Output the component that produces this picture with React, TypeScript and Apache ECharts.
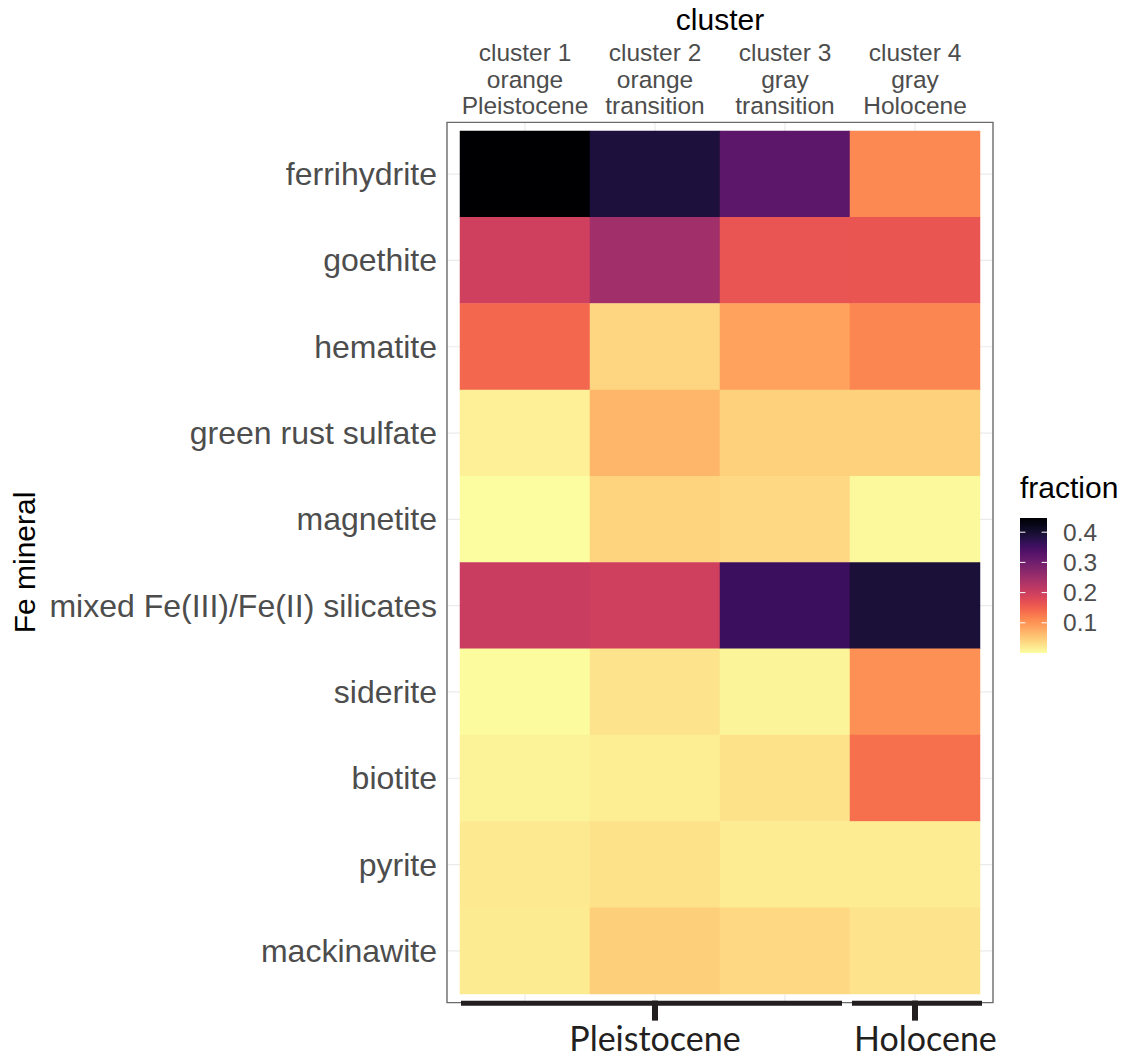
import React, { useEffect, useRef } from "react";
import * as echarts from "echarts";

// ---------- data ----------
const clusters = [
  "cluster 1\norange\nPleistocene",
  "cluster 2\norange\ntransition",
  "cluster 3\ngray\ntransition",
  "cluster 4\ngray\nHolocene",
];
const minerals = [
  "ferrihydrite",
  "goethite",
  "hematite",
  "green rust sulfate",
  "magnetite",
  "mixed Fe(III)/Fe(II) silicates",
  "siderite",
  "biotite",
  "pyrite",
  "mackinawite",
];
const cluster1 = [0.447, 0.197, 0.143, 0.013, 0.0, 0.203, 0.001, 0.011, 0.02, 0.018];
const cluster2 = [0.389, 0.246, 0.038, 0.067, 0.04, 0.197, 0.025, 0.016, 0.027, 0.045];
const cluster3 = [0.322, 0.163, 0.087, 0.042, 0.036, 0.358, 0.009, 0.027, 0.017, 0.036];
const cluster4 = [0.112, 0.162, 0.114, 0.042, 0.004, 0.393, 0.105, 0.134, 0.017, 0.026];
const clusterValues = [cluster1, cluster2, cluster3, cluster4];
const legendTicks = [0.1, 0.2, 0.3, 0.4];
const fillMin = 0;
const fillMax = 0.447;
const epochNames = ["Pleistocene", "Holocene"];
const epochFrom = [0, 3];
const epochTo = [2, 3];
const epochTick = [1, 3];

// magma palette, t = 0 (dark) .. 1 (light)
const magmaBase = [
  "#000004", "#07061C", "#140E36", "#251255", "#3B0F70", "#51127C", "#641A80",
  "#782281", "#8C2981", "#A1307E", "#B73779", "#CA3E72", "#DE4968", "#ED5A5F",
  "#F7705C", "#FC8961", "#FE9F6D", "#FEB77E", "#FECF92", "#FDE7A9", "#FCFDBF",
];
// slight tone adjustment to match the reference rendering
const magma = magmaBase.map((h) => {
  const r = parseInt(h.slice(1, 3), 16);
  const g = parseInt(h.slice(3, 5), 16);
  const b = Math.round(parseInt(h.slice(5, 7), 16) * 0.84);
  return "#" + [r, g, b].map((v) => v.toString(16).padStart(2, "0")).join("");
});

const FONT = "'Liberation Sans', Arial, Helvetica, sans-serif";

export default function App() {
  const ref = useRef<HTMLDivElement>(null);

  useEffect(() => {
    const chart = echarts.init(ref.current!, null, { renderer: "svg" });
    const data: number[][] = [];
    clusterValues.forEach((col, xi) =>
      col.forEach((v, yi) => data.push([xi, yi, v]))
    );

    chart.setOption({
      animation: false,
      backgroundColor: "#ffffff",
      textStyle: { fontFamily: FONT },
      grid: {
        left: 460,
        top: 131,
        width: 520,
        height: 863,
        containLabel: false,
        outerBoundsMode: "none",
      },
      xAxis: {
        type: "category",
        data: clusters,
        position: "top",
        offset: 8,
        name: "cluster",
        nameLocation: "middle",
        nameGap: 87,
        nameTextStyle: { fontSize: 30, color: "#000000", fontFamily: FONT },
        axisLine: { show: false },
        axisTick: { alignWithLabel: true, length: 7, lineStyle: { color: "#333333", width: 1.5 } },
        axisLabel: {
          fontSize: 24.5,
          lineHeight: 26.5,
          color: "#4D4D4D",
          margin: 4,
          fontFamily: FONT,
          interval: 0,
        },
        splitLine: { show: false },
      },
      yAxis: {
        type: "category",
        data: minerals,
        inverse: true,
        offset: 13,
        name: "Fe mineral",
        nameLocation: "middle",
        nameRotate: 90,
        nameGap: 408,
        nameTextStyle: { fontSize: 30, color: "#000000", fontFamily: FONT },
        axisLine: { show: false },
        axisTick: { alignWithLabel: true, length: 7, lineStyle: { color: "#333333", width: 1.5 } },
        axisLabel: { fontSize: 32, color: "#4D4D4D", margin: 10, fontFamily: FONT, interval: 0 },
        splitLine: { show: false },
      },
      visualMap: {
        show: false,
        type: "continuous",
        min: fillMin,
        max: fillMax,
        dimension: 2,
        inRange: { color: magma.slice().reverse() },
      },
      series: [
        {
          type: "heatmap",
          data,
          z: 2,
          itemStyle: { borderWidth: 0 },
          emphasis: { disabled: true },
        },
      ],
    });

    // ---------- annotations derived from axis positions ----------
    const pt = (xi: number, yi: number) =>
      chart.convertToPixel({ gridIndex: 0 }, [xi, yi]) as number[];
    const p00 = pt(0, 0);
    const p11 = pt(1, 1);
    const bandW = p11[0] - p00[0];
    const bandH = p11[1] - p00[1];
    const tileLeft = p00[0] - bandW / 2;
    const tileTop = p00[1] - bandH / 2;
    const padX = bandW * 0.1;
    const padY = bandH * 0.1;
    const panelL = tileLeft - padX;
    const panelT = tileTop - padY;
    const panelR = tileLeft + bandW * clusters.length + padX;
    const panelB = tileTop + bandH * minerals.length + padY;

    const elements: any[] = [];
    // grid lines
    clusters.forEach((_, i) => {
      const x = pt(i, 0)[0];
      elements.push({
        type: "line",
        z: 0,
        shape: { x1: x, y1: panelT, x2: x, y2: panelB },
        style: { stroke: "#EBEBEB", lineWidth: 1.2 },
        silent: true,
      });
    });
    minerals.forEach((_, j) => {
      const y = pt(0, j)[1];
      elements.push({
        type: "line",
        z: 0,
        shape: { x1: panelL, y1: y, x2: panelR, y2: y },
        style: { stroke: "#EBEBEB", lineWidth: 1.2 },
        silent: true,
      });
    });
    // panel border
    elements.push({
      type: "rect",
      z: 5,
      shape: { x: panelL, y: panelT, width: panelR - panelL, height: panelB - panelT },
      style: { fill: "none", stroke: "#6B6B6B", lineWidth: 1.4 },
      silent: true,
    });

    // epoch bracket
    const bracketY = panelB;
    const ink = "#231F20";
    epochNames.forEach((name, k) => {
      const x0 = pt(epochFrom[k], 0)[0] - bandW / 2 + (k === 0 ? 1 : 2);
      const x1 = pt(epochTo[k], 0)[0] + bandW / 2 + (k === 0 ? -8 : 2);
      const xt = pt(epochTick[k], 0)[0];
      elements.push({
        type: "rect",
        z: 10,
        shape: { x: x0, y: bracketY - 2, width: x1 - x0, height: 5 },
        style: { fill: ink },
        silent: true,
      });
      elements.push({
        type: "rect",
        z: 10,
        shape: { x: xt - 3, y: bracketY - 2, width: 6, height: 20 },
        style: { fill: ink },
        silent: true,
      });
      elements.push({
        type: "text",
        z: 10,
        x: k === 0 ? xt : x0 + 2,
        y: 1037,
        style: {
          text: name,
          fontSize: 34,
          fontFamily: "Lato, 'Open Sans', sans-serif",
          fill: ink,
          align: k === 0 ? "center" : "left",
          verticalAlign: "middle",
        },
        silent: true,
      });
    });

    // colour bar legend
    const barX = 1020;
    const barY = 518;
    const barW = 27;
    const barH = 135;
    const stops = magma.map((c, i) => ({ offset: i / (magma.length - 1), color: c }));
    elements.push({
      type: "text",
      z: 10,
      x: barX,
      y: 487,
      style: {
        text: "fraction",
        fontSize: 30,
        fontFamily: FONT,
        fill: "#000000",
        align: "left",
        verticalAlign: "middle",
      },
      silent: true,
    });
    elements.push({
      type: "rect",
      z: 10,
      shape: { x: barX, y: barY, width: barW, height: barH },
      style: { fill: new echarts.graphic.LinearGradient(0, 0, 0, 1, stops) },
      silent: true,
    });
    legendTicks.forEach((v) => {
      const y = barY + barH - ((v - fillMin) / (fillMax - fillMin)) * barH;
      const tl = barW / 5;
      elements.push({
        type: "line",
        z: 11,
        shape: { x1: barX, y1: y, x2: barX + tl, y2: y },
        style: { stroke: "#ffffff", lineWidth: 1 },
        silent: true,
      });
      elements.push({
        type: "line",
        z: 11,
        shape: { x1: barX + barW - tl, y1: y, x2: barX + barW, y2: y },
        style: { stroke: "#ffffff", lineWidth: 1 },
        silent: true,
      });
      elements.push({
        type: "text",
        z: 11,
        x: barX + barW + 16,
        y,
        style: {
          text: v.toFixed(1),
          fontSize: 24.5,
          fontFamily: FONT,
          fill: "#4D4D4D",
          align: "left",
          verticalAlign: "middle",
        },
        silent: true,
      });
    });

    chart.setOption({ graphic: { elements } });

    return () => chart.dispose();
  }, []);

  return (
    <div
      ref={ref}
      style={{ position: "fixed", left: 0, top: 0, width: 1126, height: 1059, background: "#fff" }}
    />
  );
}
